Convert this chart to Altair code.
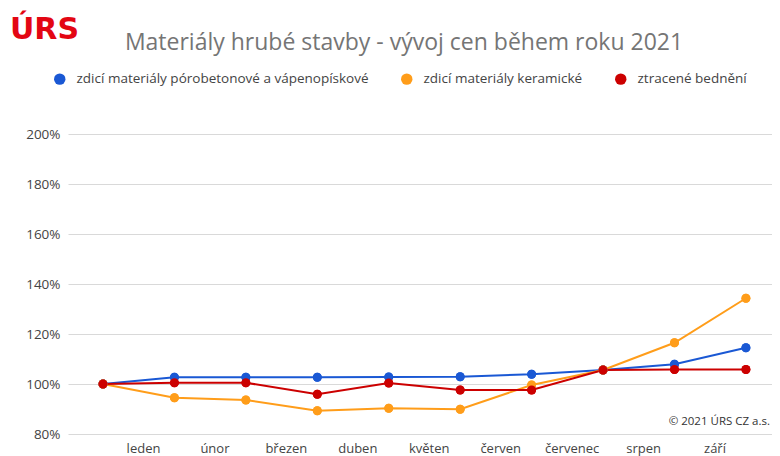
import altair as alt
import pandas as pd

months = ["leden", "únor", "březen", "duben", "květen", "červen", "červenec", "srpen", "září"]
series_names = [
    "zdicí materiály pórobetonové a vápenopískové",
    "zdicí materiály keramické",
    "ztracené bednění",
]
series_colors = ["#1a58d4", "#ff9d1a", "#cc0000"]
blue = [100.0, 102.7, 102.7, 102.7, 102.8, 102.9, 103.9, 105.6, 107.9, 114.5]
orange = [100.0, 94.5, 93.6, 89.3, 90.3, 89.9, 99.6, 105.6, 116.5, 134.3]
red = [100.0, 100.5, 100.5, 95.9, 100.4, 97.6, 97.6, 105.6, 105.8, 105.8]
y_ticks = [80, 100, 120, 140, 160, 180, 200]

rows = []
for k, (name, vals) in enumerate(zip(series_names, [blue, orange, red])):
    for i, v in enumerate(vals):
        rows.append({"idx": i, "value": v, "series": name, "order": k})
df = pd.DataFrame(rows)

W, H = 704, 300
month_expr = "[" + ",".join("'" + m + "'" for m in months) + "][floor(datum.value)]"

x = alt.X(
    "idx:Q",
    scale=alt.Scale(domain=[-0.49, 9.365], nice=False, zero=False),
    axis=alt.Axis(
        title=None, domain=False, ticks=False, grid=False,
        values=[i + 0.56 for i in range(len(months))],
        labelExpr=month_expr, labelFontSize=13, labelColor="#444444",
        labelPadding=8, labelFont="Open Sans",
    ),
)
y = alt.Y(
    "value:Q",
    scale=alt.Scale(domain=[80, 200], nice=False, zero=False),
    axis=alt.Axis(
        title=None, domain=False, ticks=False, values=y_ticks,
        labelExpr="datum.value + '%'", labelFontSize=13.5, labelColor="#444444",
        labelPadding=8, gridColor="#d9d9d9", gridWidth=1, labelFont="Open Sans",
    ),
)
legend = alt.Legend(
    title=None, orient="none", legendX=-15, legendY=-62, direction="horizontal",
    symbolType="circle", symbolSize=130, labelFontSize=13.5, labelColor="#444444",
    labelFont="Open Sans", labelOffset=10, columnPadding=31, padding=0,
    labelLimit=400, symbolStrokeWidth=0,
)
color = alt.Color(
    "series:N",
    scale=alt.Scale(domain=series_names, range=series_colors),
    sort=series_names,
    legend=legend,
)

points = alt.Chart(df).mark_circle(size=80, opacity=1).encode(
    x=x, y=y, color=color, order="order:Q",
)
lines = alt.Chart(df).mark_line(strokeWidth=2).encode(
    x=x, y=y, color=color, order="order:Q", detail="series:N",
)

logo_df = pd.DataFrame({"t": ["ÚRS"]})
logo = alt.Chart(logo_df).mark_text(
    font="DejaVu Sans", fontSize=30, fontWeight="bold", color="#e30613",
    align="left", baseline="alphabetic",
).encode(x=alt.value(-58), y=alt.value(-95), text="t:N")

copy_df = pd.DataFrame({"t": ["© 2021 ÚRS CZ a.s."]})
copyright_txt = alt.Chart(copy_df).mark_text(
    font="Open Sans", fontSize=11.5, color="#333333", align="right", baseline="alphabetic",
).encode(x=alt.value(702), y=alt.value(291), text="t:N")

chart = alt.layer(points, lines, points, logo, copyright_txt).properties(
    width=W, height=H,
    title=alt.TitleParams(
        text="Materiály hrubé stavby - vývoj cen během roku 2021",
        font="Open Sans", fontSize=23, fontWeight="normal", color="#757575",
        anchor="middle", dx=-16, offset=-40,
    ),
    padding={"left": 60, "top": 126, "right": 0, "bottom": 22},
    autosize=alt.AutoSizeParams(type="none"),
    background="white",
).configure_view(stroke=None)

chart.save("out.html", embed_options={"renderer": "svg", "actions": False})
